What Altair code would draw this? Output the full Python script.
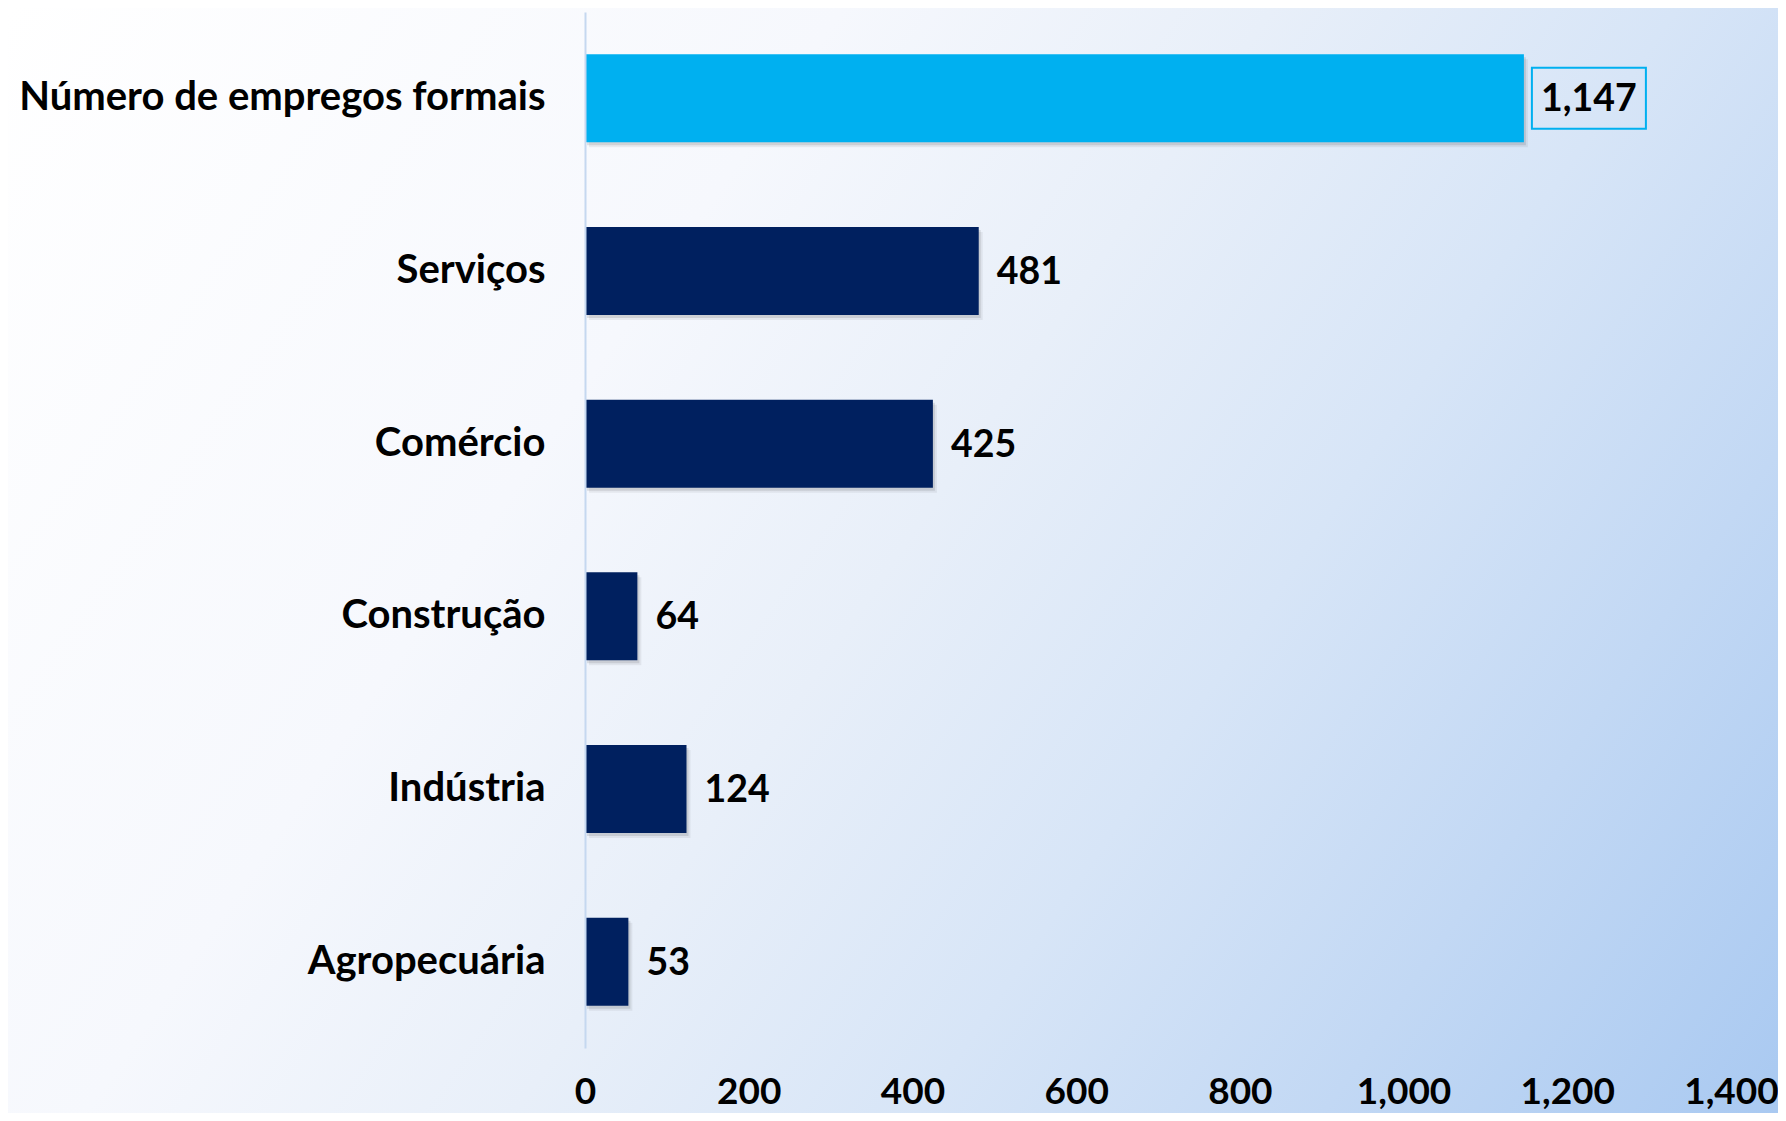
import altair as alt
import pandas as pd

categories = ["Número de empregos formais", "Serviços", "Comércio", "Construção", "Indústria", "Agropecuária"]
values = [1147, 481, 425, 64, 124, 53]
highlight = [True, False, False, False, False, False]
x_ticks = [0, 200, 400, 600, 800, 1000, 1200, 1400]

df = pd.DataFrame({"cat": categories, "val": values, "hl": highlight})

FONT = "Lato"
FS_Y = 40
FS = 37
W, H = 1146, 1036
PL, PT = 577, 4
TOTW, TOTH = 1770, 1105

y_enc = alt.Y("cat:N", sort=categories, title=None,
              scale=alt.Scale(paddingInner=0.49, paddingOuter=0.245),
              axis=alt.Axis(domainColor="#c5d8f0", domainWidth=2, ticks=False,
                            labelFont=FONT, labelFontSize=FS_Y, labelFontWeight="bold",
                            labelColor="#000000", labelPadding=40, zindex=1, grid=False,
                            labelLimit=800))
x_scale = alt.Scale(domain=[0, 1400], nice=False)
x_enc = alt.X("val:Q", scale=x_scale, title=None,
              axis=alt.Axis(values=x_ticks, format=",d", domain=False, ticks=False, grid=False,
                            labelFont=FONT, labelFontSize=FS, labelFontWeight="bold",
                            labelColor="#000000", labelPadding=26, zindex=1, labelFlush=False))

base = alt.Chart(df)

bg = alt.Chart(pd.DataFrame({"a": [0]})).mark_rect(
    fill=alt.LinearGradient(
        gradient="linear",
        stops=[
            alt.GradientStop(color="#ffffff", offset=0.0),
            alt.GradientStop(color="#f6f8fd", offset=0.33),
            alt.GradientStop(color="#e8eff9", offset=0.5),
            alt.GradientStop(color="#d7e5f7", offset=0.66),
            alt.GradientStop(color="#c2d8f4", offset=0.82),
            alt.GradientStop(color="#a9c9f1", offset=1.0),
        ],
        x1=0, y1=0, x2=1.207, y2=0.517,
    )
).encode(x=alt.value(-PL), x2=alt.value(TOTW - PL), y=alt.value(-PT), y2=alt.value(TOTH - PT))

shadow1 = base.mark_bar(color="#000000", opacity=0.10, xOffset=2, yOffset=3).encode(x=x_enc, y=y_enc)
shadow2 = base.mark_bar(color="#000000", opacity=0.06, xOffset=4, yOffset=5).encode(x=x_enc, y=y_enc)

bars = base.mark_bar().encode(
    x=x_enc, y=y_enc,
    color=alt.condition("datum.hl", alt.value("#00B0F0"), alt.value("#00205F")),
)

labels = base.transform_filter("!datum.hl").mark_text(
    align="left", baseline="middle", dx=18, dy=2, font=FONT, fontSize=37.5, fontWeight="bold", color="#000000"
).encode(x=x_enc, y=y_enc, text=alt.Text("val:Q", format=",d"))

hl_label = base.transform_filter("datum.hl").mark_text(
    align="left", baseline="middle", dx=17, dy=2, font=FONT, fontSize=37.5, fontWeight="bold", color="#000000"
).encode(x=x_enc, y=y_enc, text=alt.Text("val:Q", format=",d"))

hl_box = base.transform_filter("datum.hl").mark_bar(
    fill="transparent", stroke="#00B0F0", strokeWidth=2, height=61, xOffset=8, x2Offset=122
).encode(x=x_enc, x2="val:Q", y=y_enc)

chart = alt.layer(bg, shadow2, shadow1, bars, labels, hl_box, hl_label).properties(
    width=W, height=H,
    autosize=alt.AutoSizeParams(type="none"),
    padding={"left": PL, "top": PT, "right": TOTW - PL - W, "bottom": TOTH - PT - H},
).configure_view(stroke=None)

chart.save("out.html", embed_options={"renderer": "svg", "actions": False})
